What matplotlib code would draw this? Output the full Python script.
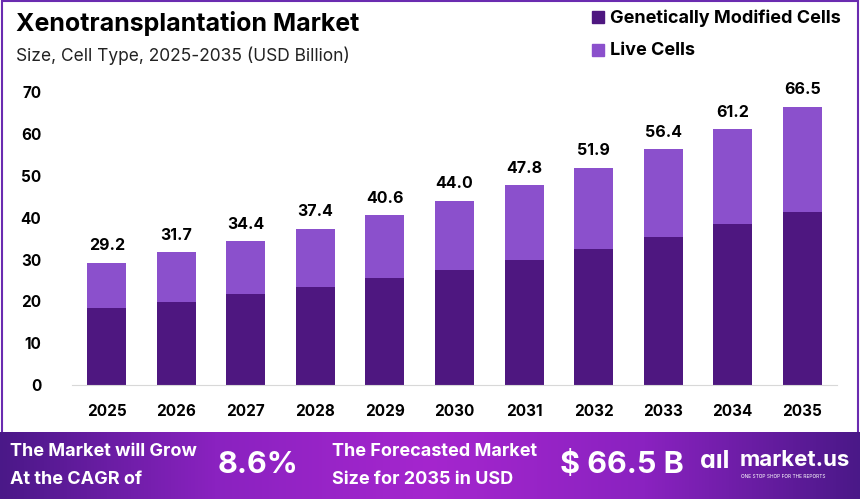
import matplotlib.pyplot as plt
import numpy as np
from matplotlib.colors import LinearSegmentedColormap
from matplotlib.patches import Rectangle

years = ["2025", "2026", "2027", "2028", "2029", "2030", "2031", "2032", "2033", "2034", "2035"]
totals = [29.2, 31.7, 34.4, 37.4, 40.6, 44.0, 47.8, 51.9, 56.4, 61.2, 66.5]
genetically_modified = [18.4, 19.9, 21.7, 23.5, 25.5, 27.6, 30.0, 32.5, 35.3, 38.4, 41.5]
live_cells = [t - g for t, g in zip(totals, genetically_modified)]
yticks = [0, 10, 20, 30, 40, 50, 60, 70]

dark = "#4e1780"
light = "#8b50cc"

plt.rcParams['font.family'] = ['Inter', 'DejaVu Sans']

fig = plt.figure(figsize=(8.6, 4.99), dpi=100)
W, H = 860, 499

# chart frame
frame = fig.add_axes([0, 0, 1, 1], zorder=0)
frame.set_xlim(0, W); frame.set_ylim(H, 0); frame.axis("off")
frame.add_patch(Rectangle((2, 1), W - 4, 440, fill=False, edgecolor="#6a2bb0", lw=1.5))

ax = fig.add_axes([72 / W, 1 - 385 / H, 765 / W, (385 - 84) / H], zorder=1)
x = np.arange(len(years))
ax.bar(x, genetically_modified, width=0.56, color=dark, label="Genetically Modified Cells")
ax.bar(x, live_cells, width=0.56, bottom=genetically_modified, color=light, label="Live Cells")
for xi, t in zip(x, totals):
    ax.text(xi, t + 2.3, f"{t:.1f}", ha="center", va="bottom", fontsize=11.5, fontweight="bold")

ax.set_xlim(-0.5, 10.5)
ax.set_ylim(0, 72)
ax.set_xticks(x)
ax.set_xticklabels(years, fontsize=11, fontweight="bold")
ax.set_yticks(yticks)
ax.set_yticklabels([str(v) for v in yticks], fontsize=11, fontweight="bold")
ax.tick_params(length=0)
ax.tick_params(axis="x", pad=14)
ax.tick_params(axis="y", pad=22)
for s in ["top", "right", "left"]:
    ax.spines[s].set_visible(False)
ax.spines["bottom"].set_color("#d8d8d8")
ax.patch.set_alpha(0)

# titles
fig.text(16 / W, 1 - 23 / H, "Xenotransplantation Market", fontsize=18, fontweight="bold", va="center")
fig.text(16 / W, 1 - 56 / H, "Size, Cell Type, 2025-2035 (USD Billion)", fontsize=12.5, va="center", color="#222222")

# legend
frame.add_patch(Rectangle((592, 11), 12, 12, color=dark))
frame.add_patch(Rectangle((592, 44), 12, 12, color=light))
frame.text(610, 18, "Genetically Modified Cells", fontsize=13, fontweight="bold", va="center")
frame.text(610, 50, "Live Cells", fontsize=13, fontweight="bold", va="center")

# banner
bax = fig.add_axes([0, 0, 1, 67 / H], zorder=2)
cmap = LinearSegmentedColormap.from_list("b", ["#4a1888", "#8a22c0", "#a526ce", "#8a22c0", "#4a1888"])
grad = np.linspace(0, 1, 256).reshape(1, -1)
bax.imshow(grad, cmap=cmap, aspect="auto", extent=[0, W, 67, 0])
bax.set_xlim(0, W); bax.set_ylim(67, 0); bax.axis("off")
bax.text(10, 20, "The Market will Grow", color="white", fontsize=13, fontweight="bold", va="center")
bax.text(10, 47, "At the CAGR of", color="white", fontsize=13, fontweight="bold", va="center")
bax.text(218, 33, "8.6%", color="white", fontsize=22, fontweight="bold", va="center")
bax.text(332, 20, "The Forecasted Market", color="white", fontsize=13, fontweight="bold", va="center")
bax.text(332, 47, "Size for 2035 in USD", color="white", fontsize=13, fontweight="bold", va="center")
bax.text(560, 33, "$ 66.5 B", color="white", fontsize=22, fontweight="bold", va="center")
bax.text(700, 30, "ɑıl", color="white", fontsize=18, fontweight="bold", va="center")
bax.text(740, 28, "market.us", color="white", fontsize=16, fontweight="bold", va="center")
bax.text(741, 44, "ONE STOP SHOP FOR THE REPORTS", color="white", fontsize=3.5, va="center")

fig.savefig("out.png", dpi=100)
